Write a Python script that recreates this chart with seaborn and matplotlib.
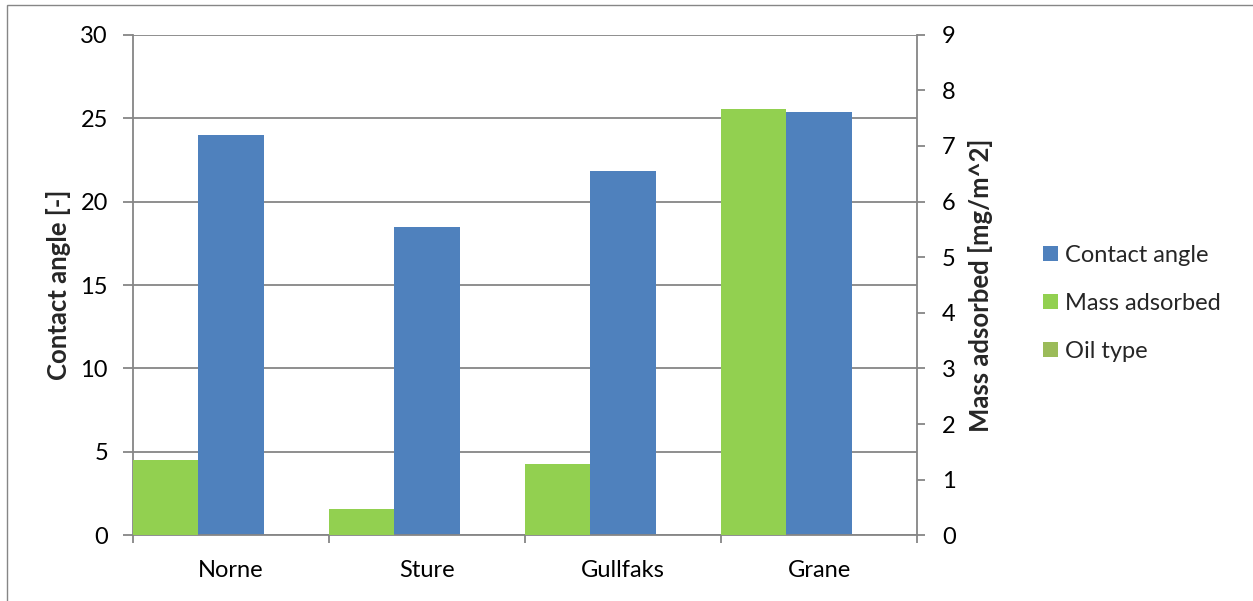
import matplotlib
matplotlib.use("Agg")
import matplotlib.pyplot as plt
from matplotlib.patches import Patch, Rectangle
import pandas as pd
import seaborn as sns

# Values per oil type
oil_types = ["Norne", "Sture", "Gullfaks", "Grane"]
contact_angle = [24.0, 18.45, 21.85, 25.35]      # left axis [-]
mass_adsorbed = [1.35, 0.47, 1.29, 7.66]         # right axis [mg/m^2]
series_order = ["Mass adsorbed", "Contact angle", "Oil type"]
legend_order = ["Contact angle", "Mass adsorbed", "Oil type"]
colors = {"Contact angle": "#4F81BD", "Mass adsorbed": "#92D050", "Oil type": "#9BBB59"}
left_ticks = [0, 5, 10, 15, 20, 25, 30]
right_ticks = [0, 1, 2, 3, 4, 5, 6, 7, 8, 9]

GRAY = "#868686"
W, H = 1253, 601

sns.set_theme(style="white")
plt.rcParams["font.family"] = ["Lato", "DejaVu Sans"]
FS = 17
FS_LABEL = 18.5

fig = plt.figure(figsize=(W / 100, H / 100), dpi=100)
fig.patch.set_facecolor("white")
ax = fig.add_axes([133 / W, 1 - 535.3 / H, 784 / W, 500.6 / H])
ax2 = ax.twinx()

df_angle = pd.DataFrame({"oil": oil_types, "value": contact_angle, "series": "Contact angle"})
df_mass = pd.DataFrame({"oil": oil_types, "value": mass_adsorbed, "series": "Mass adsorbed"})

common = dict(x="oil", y="value", hue="series", hue_order=series_order, palette=colors,
              width=0.996, dodge=True, gap=0, saturation=1, errorbar=None,
              legend=False, linewidth=0)
sns.barplot(data=df_angle, ax=ax, **common)
sns.barplot(data=df_mass, ax=ax2, **common)

# Left axis
ax.set_xlim(-0.5, len(oil_types) - 0.5)
ax.set_ylim(0, 30)
ax.set_yticks(left_ticks)
ax.set_axisbelow(True)
ax.yaxis.grid(True, color=GRAY, linewidth=1.3)
ax.xaxis.grid(False)
ax.set_xlabel("")
ax.set_ylabel("Contact angle [-]", fontsize=FS_LABEL, fontweight="bold")
ax.yaxis.set_label_coords((71 - 133) / 784, 0.5)

# Right axis
ax2.set_ylim(0, 9)
ax2.set_yticks(right_ticks)
ax2.grid(False)
ax2.set_ylabel("Mass adsorbed [mg/m^2]", fontsize=FS_LABEL, fontweight="bold", rotation=90)
ax2.yaxis.set_label_position("right")
ax2.yaxis.set_label_coords((968 - 133) / 784, 0.5)

for s in ["top", "right"]:
    ax.spines[s].set_visible(False)
for s in ["top", "left", "bottom"]:
    ax2.spines[s].set_visible(False)
for sp in [ax.spines["left"], ax.spines["bottom"], ax2.spines["right"]]:
    sp.set_color(GRAY)
    sp.set_linewidth(1.3)

ax.tick_params(axis="y", left=True, direction="out", length=7, width=1.3,
               color=GRAY, pad=11, labelsize=FS, labelcolor="black")
ax2.tick_params(axis="y", right=True, direction="out", length=6, width=1.3,
                color=GRAY, pad=12, labelsize=FS, labelcolor="black")
ax.set_xticks(range(len(oil_types)))
ax.set_xticklabels(oil_types)
ax.set_xticks([i - 0.5 for i in range(len(oil_types) + 1)], minor=True)
ax.tick_params(axis="x", which="major", bottom=True, length=0, pad=18,
               labelsize=FS, labelcolor="black")
ax.tick_params(axis="x", which="minor", bottom=True, direction="out", length=6,
               width=1.3, color=GRAY)

# Legend
handles = [Patch(facecolor=colors[k], edgecolor="none") for k in legend_order]
fig.legend(handles, legend_order, loc="upper left",
           bbox_to_anchor=(1043 / W, 1 - 245 / H), frameon=False, fontsize=FS,
           handlelength=0.635, handleheight=0.635, handletextpad=0.3,
           labelspacing=1.14, borderpad=0, borderaxespad=0)

# Outer chart border
fig.add_artist(Rectangle((7 / W, -0.05), 1.1, 1 - 5 / H + 0.05,
                         transform=fig.transFigure, fill=False,
                         edgecolor=GRAY, linewidth=1, clip_on=False))

fig.savefig("out.png", dpi=100)
